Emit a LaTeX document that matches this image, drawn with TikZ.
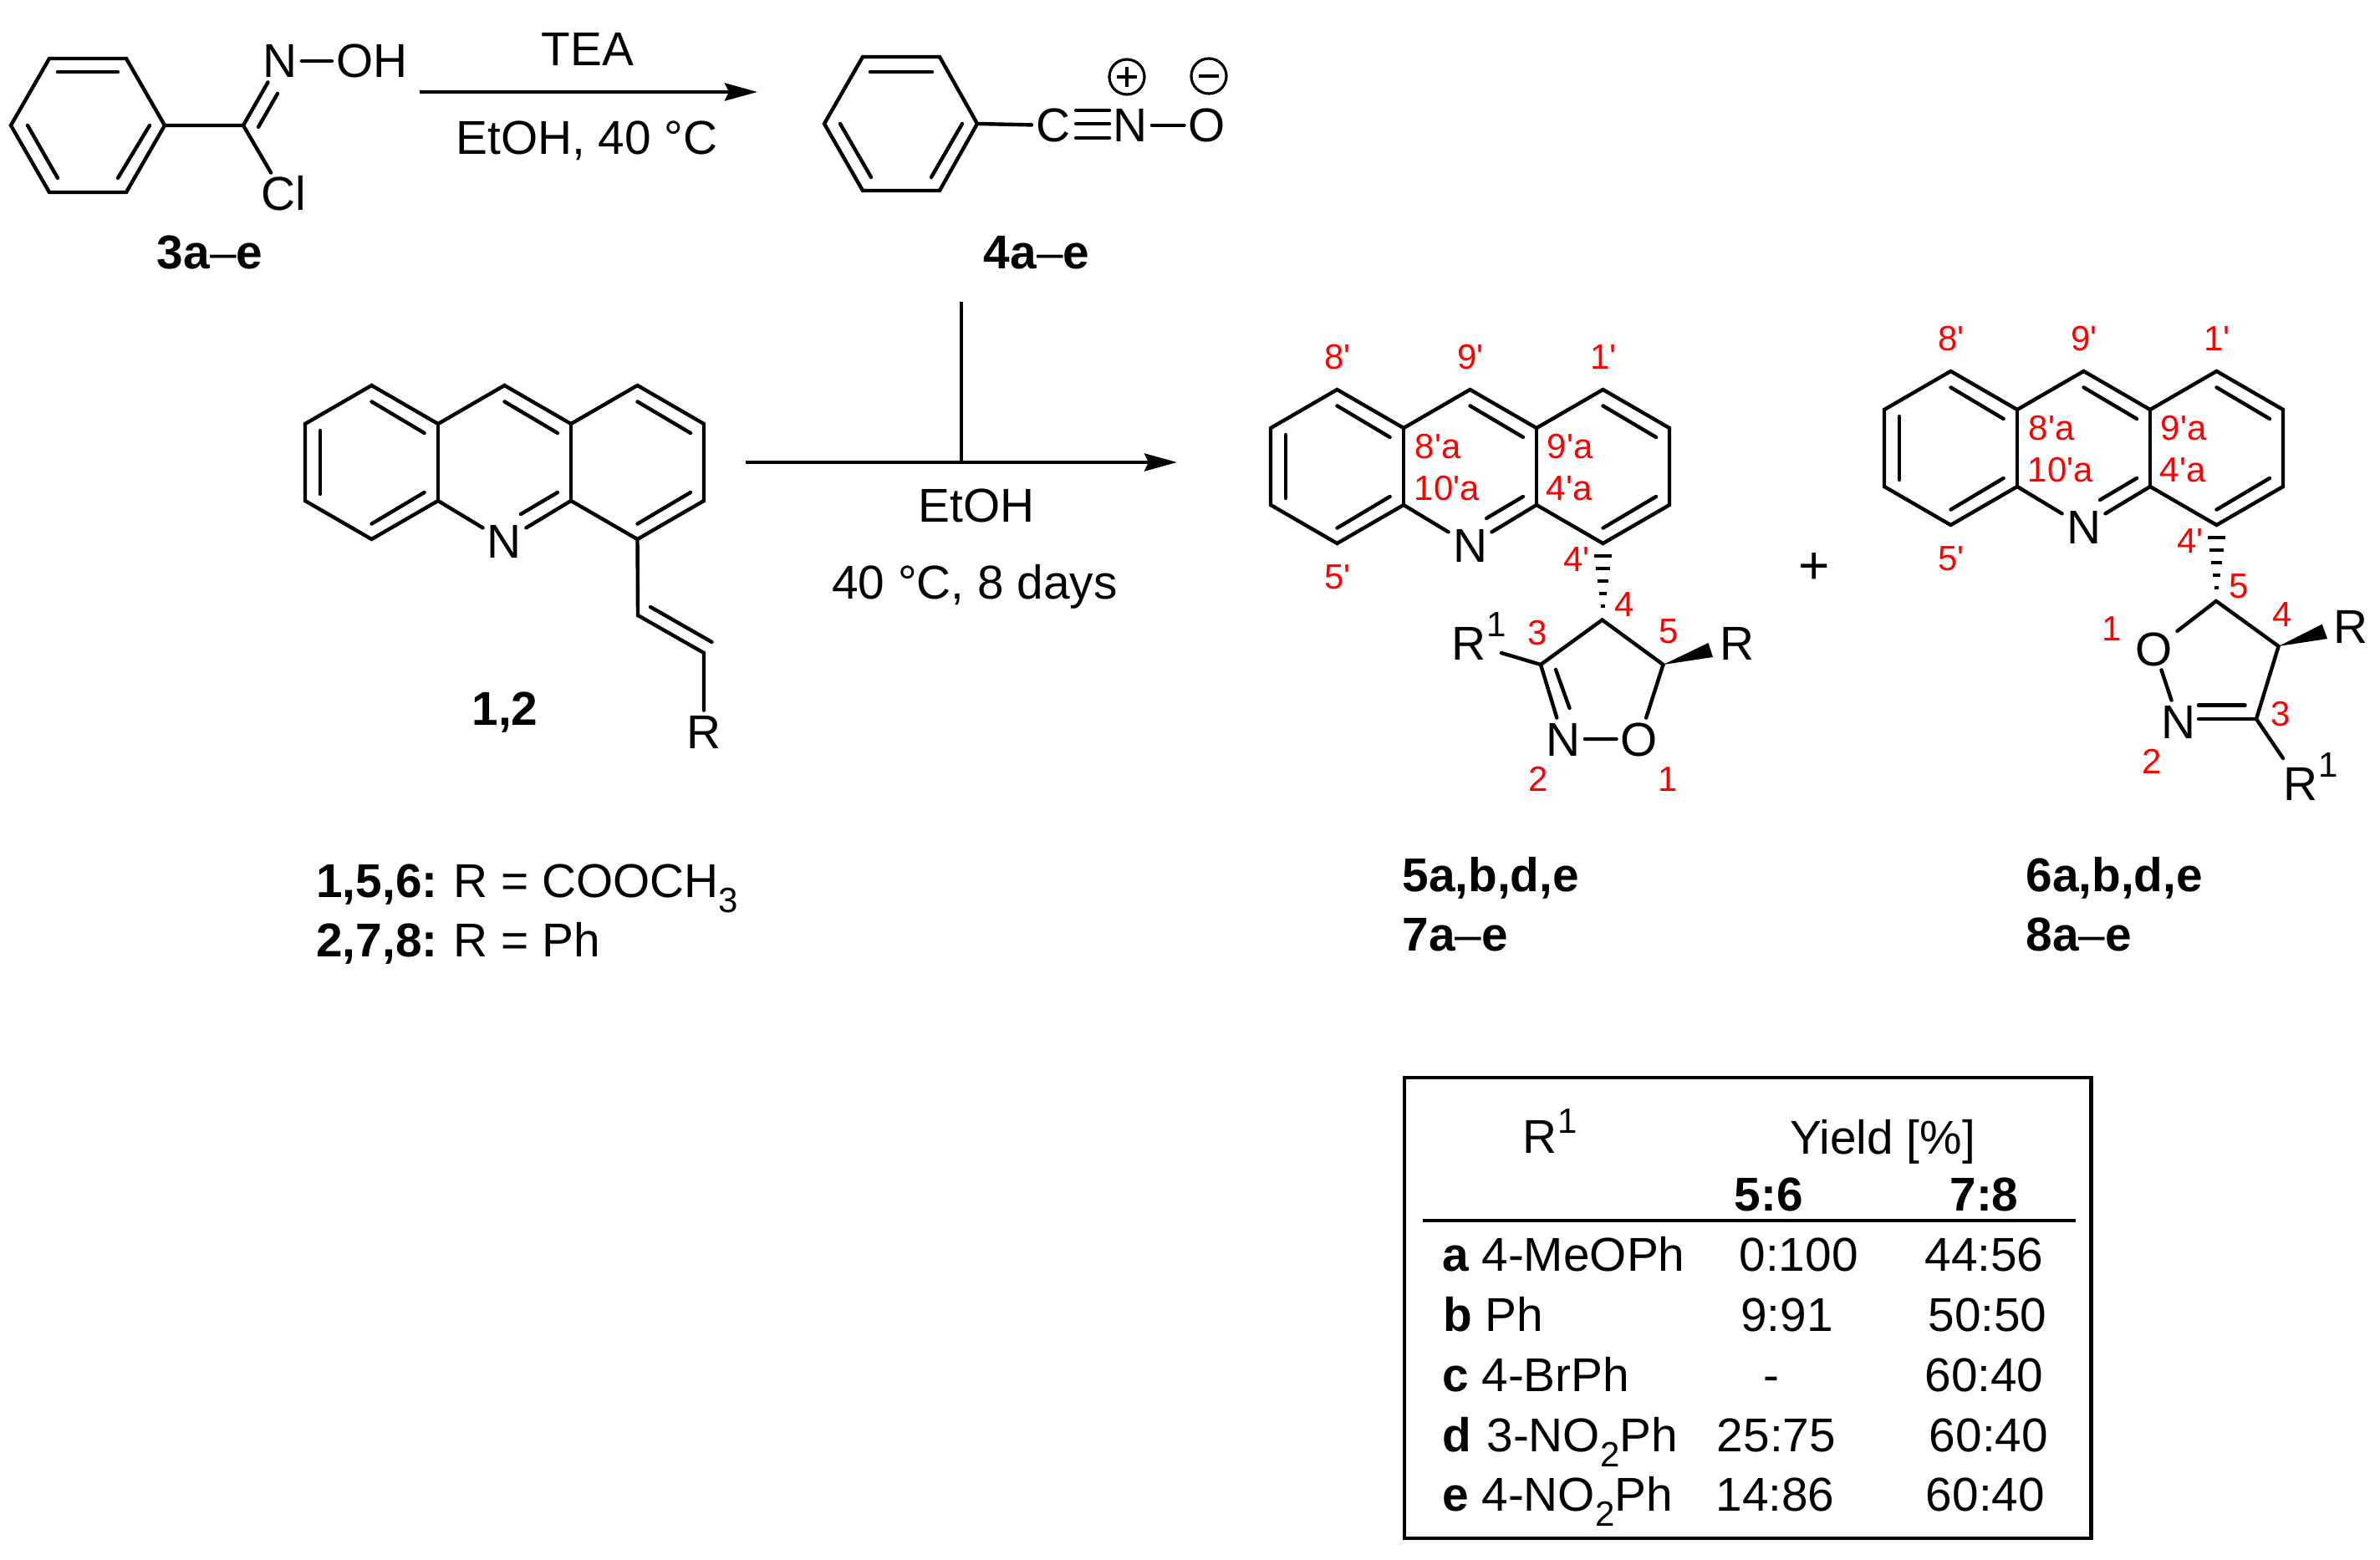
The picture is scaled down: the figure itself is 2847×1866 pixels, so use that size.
\documentclass[tikz,border=0pt]{standalone}
\usepackage{fontspec}
\setmainfont{Liberation Sans}
\newfontfamily\numfont{Liberation Sans}
\usetikzlibrary{arrows.meta}
\newcommand{\supone}[1]{\kern0.5pt\raisebox{#1}{\fontsize{21}{22}\selectfont 1}}
\newcommand{\subdig}[1]{\raisebox{-9pt}{\fontsize{21}{22}\selectfont #1}}
\tikzset{
  bond/.style={line width=2.2pt,line cap=round,line join=miter},
  txt/.style={inner sep=0pt,text height=20pt,text depth=0pt,font=\fontsize{28.4}{30}\selectfont},
  atom/.style={txt,inner sep=2.5pt},
  nmb/.style={inner sep=0pt,text height=14.7pt,text depth=0pt,text=red,font=\numfont\fontsize{21}{22}\selectfont},
  hashline/.style={line width=2pt},
  rxn/.style={line width=2.2pt,-{Stealth[length=19.5pt,width=10.5pt,inset=2.5pt]}},
  tbl/.style={txt,anchor=west},
}
% acridine skeleton: #1,#2 origin, #3 prefix of the names
\newcommand{\acridine}[3]{%
\begin{scope}[shift={(#1,#2)}]
  \coordinate (#3p1) at (0,46);
  \coordinate (#3p2) at (79.5,0);
  \coordinate (#3p3) at (159,46);
  \coordinate (#3p4) at (238.5,0);
  \coordinate (#3p5) at (318,46);
  \coordinate (#3p6) at (397.5,0);
  \coordinate (#3p7) at (477,46);
  \coordinate (#3p8) at (477,138);
  \coordinate (#3p9) at (397.5,184);
  \coordinate (#3p10) at (318,138);
  \coordinate (#3p11) at (159,138);
  \coordinate (#3p12) at (79.5,184);
  \coordinate (#3p13) at (0,138);
  \node[atom] (#3N) at (238.5,186) {N};
  \draw[bond] (#3N) -- (#3p11) -- (#3p12) -- (#3p13) -- (#3p1) -- (#3p2) -- (#3p3) -- (#3p4) -- (#3p5) -- (#3p6) -- (#3p7) -- (#3p8) -- (#3p9) -- (#3p10) -- (#3N);
  \draw[bond] (#3p3) -- (#3p11);
  \draw[bond] (#3p5) -- (#3p10);
  \draw[bond] (18,54) -- (18,130);
  \draw[bond] (79.5,19.4) -- (142.6,57);
  \draw[bond] (79.5,165.6) -- (142.6,128);
  \draw[bond] (238.5,19.4) -- (302,57);
  \draw[bond] (397.5,19.4) -- (461,57);
  \draw[bond] (397.5,165.6) -- (461,128);
  \draw[bond] (258,154) -- (302,128);
\end{scope}}
% locants common to both products
\newcommand{\locants}[3]{%
\begin{scope}[shift={(#1,#2)}]
  \node[nmb] (#3l8) at (80,-39) {8'};
  \node[nmb] (#3l9) at (239,-39) {9'};
  \node[nmb] (#3l1) at (398,-39) {1'};
  \node[nmb] (#3l8a) at (200,68) {8'a};
  \node[nmb] (#3l9a) at (358,68) {9'a};
  \node[nmb] (#3l10a) at (211,118) {10'a};
  \node[nmb] (#3l4a) at (357,118) {4'a};
  \node[nmb] (#3l5) at (80,224) {5'};
  \node[nmb] (#3l4p) at (366,203) {4'};
\end{scope}}
% hashed bond hanging below a ring atom
\newcommand{\hashbond}[1]{%
\begin{scope}[shift={(#1)}]
  \foreach \yy/\ww in {14.6/10.5,30/8.5,44.7/6.5,59.7/4.5,74.7/2.5}
    \draw[hashline] (-\ww,\yy) -- (\ww,\yy);
\end{scope}}
\begin{document}
\begin{tikzpicture}[x=0.5pt,y=-0.5pt]
\useasboundingbox (0,0) rectangle (2847,1866);
% --- 3a-e
\coordinate (a1) at (59,70);
\coordinate (a2) at (151,70);
\coordinate (a3) at (197,150);
\coordinate (a4) at (151,230);
\coordinate (a5) at (59,230);
\coordinate (a6) at (13,150);
\coordinate (aC) at (291,150);
\draw[bond] (a1) -- (a2) -- (a3) -- (a4) -- (a5) -- (a6) -- cycle;
\draw[bond] (69,86) -- (141,86);
\draw[bond] (33,150) -- (69,213);
\draw[bond] (179,150) -- (141,213);
\node[atom] (aN) at (335,73) {N};
\node[atom] (aOH) at (445,73) {OH};
\node[atom] (aCl) at (339,232) {Cl};
\draw[bond] (a3) -- (aC) -- (aN);
\draw[bond] (aC) -- (aCl);
\draw[bond] (aN) -- (aOH);
\draw[bond] (332,112) -- (309,152);
\node[txt] (l3) at (251,302) {\textbf{3a}–\textbf{e}};
% --- first arrow
\coordinate (r1s) at (502,110);
\coordinate (r1e) at (906,110);
\draw[rxn] (r1s) -- (r1e);
\node[txt] (tea) at (703,59) {TEA};
\node[txt] (cond1) at (702,165) {EtOH, 40 °C};
% --- 4a-e
\coordinate (b1) at (1032,68);
\coordinate (b2) at (1124,68);
\coordinate (b3) at (1169,148);
\coordinate (b4) at (1124,228);
\coordinate (b5) at (1032,228);
\coordinate (b6) at (986,148);
\draw[bond] (b1) -- (b2) -- (b3) -- (b4) -- (b5) -- (b6) -- cycle;
\draw[bond] (1041,86) -- (1115,86);
\draw[bond] (1005,148) -- (1042,212);
\draw[bond] (1151,148) -- (1114,212);
\node[atom] (bC) at (1260,150) {C};
\node[atom] (bN) at (1352,150) {N};
\node[atom] (bO) at (1444,150) {O};
\draw[bond] (b3) -- (bC);
\draw[bond] (1287,148) -- (1327,148);
\draw[bond] (1287,132) -- (1327,132);
\draw[bond] (1287,165) -- (1327,165);
\draw[bond] (bN) -- (bO);
\coordinate (pc) at (1348,92);
\coordinate (mc) at (1446,91);
\draw[line width=1.6pt] (pc) circle[radius=21];
\draw[line width=1.6pt] (mc) circle[radius=21];
\draw[line width=1.9pt] (1336,92) -- (1360,92) (1348,80) -- (1348,104);
\draw[line width=1.9pt] (1434,91) -- (1458,91);
\node[txt] (l4) at (1240,302) {\textbf{4a}–\textbf{e}};
% --- 1,2
\acridine{365}{461}{A}
\coordinate (v1) at (763,736);
\coordinate (v2) at (842,781);
\node[atom] (vR) at (842,875) {R};
\draw[bond] (Ap9) -- (v1) -- (v2) -- (vR);
\draw[bond] (778,726) -- (851.5,768);
\node[txt] (l12) at (604,847) {\textbf{1,2}};
\node[tbl] (l156) at (378,1053) {\textbf{1,5,6:}\kern-1pt{} R = COOCH\subdig{3}};
\node[tbl] (l278) at (378,1124) {\textbf{2,7,8:}\kern-1pt{} R = Ph};
% --- main arrow
\coordinate (r2s) at (892,553);
\coordinate (r2e) at (1408,553);
\coordinate (r2t) at (1150,361);
\coordinate (r2j) at (1150,553);
\draw[rxn] (r2s) -- (r2e);
\draw[bond,line cap=butt] (r2t) -- (r2j);
\node[txt] (c2a) at (1168,604) {EtOH};
\node[txt] (c2b) at (1166,696) {40 °C, 8 days};
% --- 5/7
\acridine{1520}{466}{B}
\locants{1520}{466}{B}
\hashbond{Bp9}
\coordinate (c4) at (1916.5,741.5);
\coordinate (c3) at (1843,795);
\coordinate (c5) at (1989.5,795);
\node[atom] (cN) at (1870,884) {N};
\node[atom] (cO) at (1961,884) {O};
\node[atom,anchor=west,inner sep=0pt] (cR1) at (1736,769) {R\supone{14pt}};
\node[atom] (cR) at (2077.5,769) {R};
\draw[bond] (cO) -- (c5) -- (c4) -- (c3) -- (cN) -- (cO);
\draw[bond] (1861,801) -- (1877.5,847);
\draw[bond] (1796,781) -- (c3);
\fill (c5) -- (2043.5,769) -- (2049,786) -- cycle;
\node[nmb] (n4) at (1943,723) {4};
\node[nmb] (n3) at (1839,756.5) {3};
\node[nmb] (n5) at (1996,755) {5};
\node[nmb] (n2) at (1840,932) {2};
\node[nmb] (n1) at (1995,932) {1};
\node[tbl] (l5) at (1677,1046) {\textbf{5a,b,d,e}};
\node[tbl] (l7) at (1677,1117) {\textbf{7a}–\textbf{e}};
% --- plus
\node[txt,font=\fontsize{32}{32}\selectfont] (plus) at (2170,678) {+};
% --- 6/8
\acridine{2254}{444}{C}
\locants{2254}{444}{C}
\hashbond{Cp9}
\coordinate (d5) at (2651,719);
\coordinate (d4) at (2725.6,773);
\coordinate (d3) at (2699,860);
\node[atom] (dO) at (2577,776) {O};
\node[atom] (dN) at (2606,863) {N};
\node[atom,anchor=west,inner sep=0pt] (dR1) at (2731,937) {R\supone{14pt}};
\node[atom] (dR) at (2811.6,749.4) {R};
\draw[bond] (dO) -- (d5) -- (d4) -- (d3) -- (2731,907);
\draw[bond] (dO) -- (dN);
\draw[bond] (d3) -- (2630,860);
\draw[bond] (2685.5,843.5) -- (2630,843.5);
\fill (d4) -- (2777.7,746.7) -- (2784,764) -- cycle;
\node[nmb] (m5) at (2678.5,701) {5};
\node[nmb] (m4) at (2730,734.4) {4};
\node[nmb] (m3) at (2727.7,854) {3};
\node[nmb] (m2) at (2574,911) {2};
\node[nmb] (m1) at (2526,751.4) {1};
\node[tbl] (l6) at (2423,1046) {\textbf{6a,b,d,e}};
\node[tbl] (l8) at (2423,1117) {\textbf{8a}–\textbf{e}};
% --- table
\coordinate (tl) at (1680,1289);
\coordinate (br) at (2501.6,1840);
\draw[line width=2.2pt] (tl) rectangle (br);
\coordinate (rl) at (1702,1460);
\coordinate (rr) at (2483,1460);
\draw[line width=2.2pt] (rl) -- (rr);
\node[tbl] (tR) at (1821.5,1359) {R\supone{12pt}};
\node[txt] (tY) at (2252,1360) {Yield [\%]};
\node[txt] (t56) at (2116,1428.5) {\textbf{5:6}};
\node[txt] (t78) at (2373.5,1428.5) {\textbf{7:8}};
\node[tbl] (ra) at (1725,1500.5) {\textbf{a}};
\node[tbl] (rb) at (1726,1572.5) {\textbf{b}};
\node[tbl] (rc) at (1725,1644.5) {\textbf{c}};
\node[tbl] (rd) at (1725,1716.5) {\textbf{d}};
\node[tbl] (re) at (1725,1787.5) {\textbf{e}};
\node[tbl] (na) at (1772,1500.5) {4-MeOPh};
\node[tbl] (nb) at (1776,1572.5) {Ph};
\node[tbl] (nc) at (1772,1644.5) {4-BrPh};
\node[tbl] (nd) at (1778,1716.5) {3-NO\subdig{2}Ph};
\node[tbl] (ne) at (1772,1787.5) {4-NO\subdig{2}Ph};
\node[txt] (c1a) at (2151.6,1500.5) {0:100};
\node[txt] (c1b) at (2137.5,1572.5) {9:91};
\node[txt] (c1c) at (2119,1644.5) {-};
\node[txt] (c1d) at (2125,1716.5) {25:75};
\node[txt] (c1e) at (2123.5,1787.5) {14:86};
\node[txt] (c2ra) at (2373.5,1500.5) {44:56};
\node[txt] (c2rb) at (2377.5,1572.5) {50:50};
\node[txt] (c2rc) at (2373.5,1644.5) {60:40};
\node[txt] (c2rd) at (2379,1716.5) {60:40};
\node[txt] (c2re) at (2375,1787.5) {60:40};
\end{tikzpicture}
\end{document}
